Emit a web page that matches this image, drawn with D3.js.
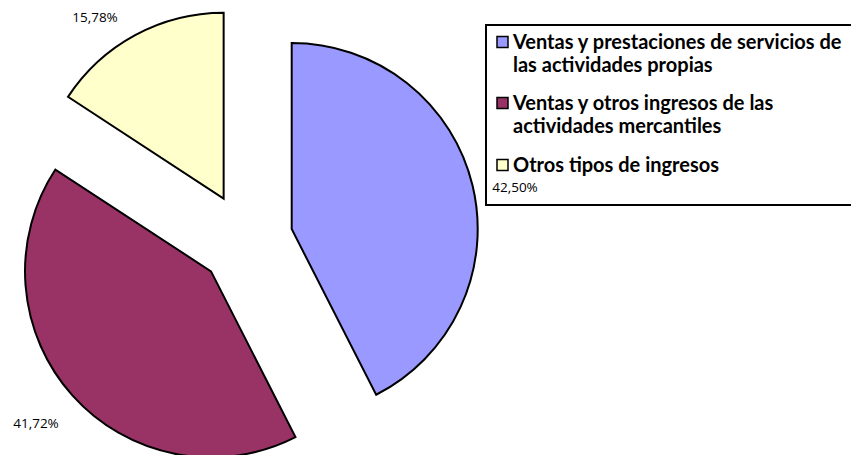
<!DOCTYPE html>
<html>
<head>
<meta charset="utf-8">
<script src="https://cdn.jsdelivr.net/npm/d3@7"></script>
<style>
  body { margin: 0; background: #fff; }
  svg { display: block; }
</style>
</head>
<body>
<svg width="851" height="455"></svg>
<script>
// data
const categories = [
  "Ventas y prestaciones de servicios de las actividades propias",
  "Ventas y otros ingresos de las actividades mercantiles",
  "Otros tipos de ingresos"
];
const legendLines = [
  ["Ventas y prestaciones de servicios de", "las actividades propias"],
  ["Ventas y otros ingresos de las", "actividades mercantiles"],
  ["Otros tipos de ingresos"]
];
const values = [42.50, 41.72, 15.78];
const labels = ["42,50%", "41,72%", "15,78%"];
const colors = ["#9999FF", "#993366", "#FFFFCC"];

const width = 851, height = 455;
const cx = 246, cy = 240, radius = 186, explode = 47;

const svg = d3.select("svg");

const pie = d3.pie().sort(null).value(d => d)(values);
const arc = d3.arc().innerRadius(0).outerRadius(radius);

const g = svg.append("g").attr("transform", `translate(${cx}, ${cy})`);

g.selectAll("path")
  .data(pie)
  .join("path")
    .attr("transform", d => {
      const a = (d.startAngle + d.endAngle) / 2;
      return `translate(${explode * Math.sin(a)}, ${-explode * Math.cos(a)})`;
    })
    .attr("d", arc)
    .attr("fill", (d, i) => colors[i])
    .attr("stroke", "#000")
    .attr("stroke-width", 2)
    .attr("stroke-linejoin", "miter");

// legend
const lg = svg.append("g");
lg.append("rect")
  .attr("x", 486).attr("y", 25)
  .attr("width", 400).attr("height", 180)
  .attr("fill", "none")
  .attr("stroke", "#000")
  .attr("stroke-width", 2);

const itemY = [42, 103, 165];
legendLines.forEach((lines, i) => {
  lg.append("rect")
    .attr("x", 497).attr("y", itemY[i] - 5.5)
    .attr("width", 11).attr("height", 11)
    .attr("fill", colors[i])
    .attr("stroke", "#000")
    .attr("stroke-width", 1.5);
  lines.forEach((t, j) => {
    lg.append("text")
      .attr("x", 513)
      .attr("y", itemY[i] + 7 + j * 23)
      .attr("font-family", "Lato, sans-serif")
      .attr("font-weight", 700)
      .attr("font-size", "20px")
      .attr("fill", "#000")
      .text(t);
  });
});

// data labels (positions as Excel put them)
const labelPos = [[515, 192], [36, 428], [95, 22]];
svg.selectAll("text.lbl")
  .data(labels)
  .join("text")
    .attr("class", "lbl")
    .attr("x", (d, i) => labelPos[i][0])
    .attr("y", (d, i) => labelPos[i][1])
    .attr("text-anchor", "middle")
    .attr("font-family", "'Open Sans', sans-serif")
    .attr("font-size", "13.5px")
    .attr("fill", "#000")
    .text(d => d);
</script>
</body>
</html>
